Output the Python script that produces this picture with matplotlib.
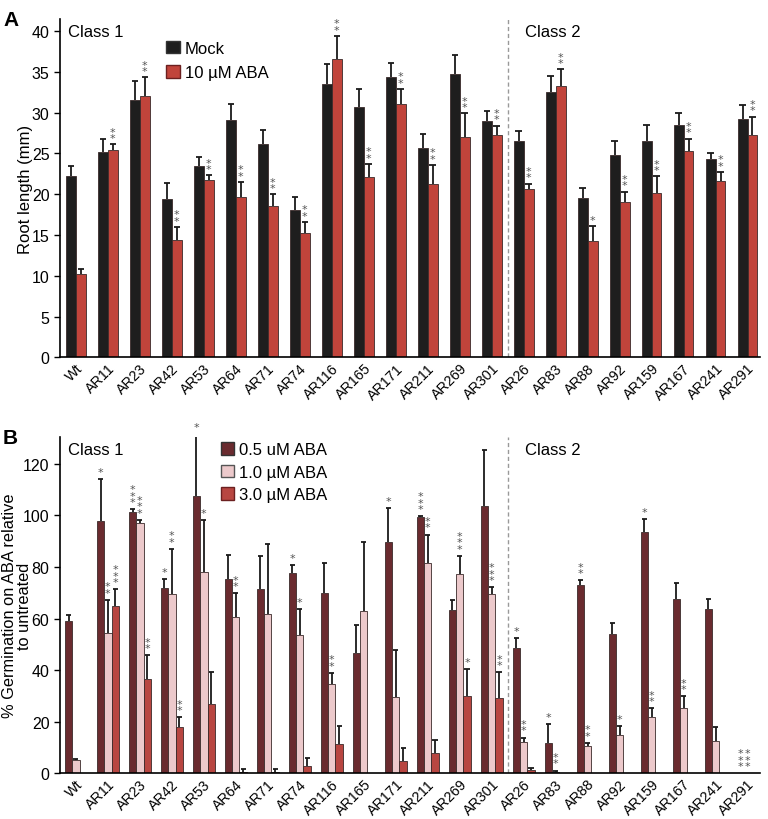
import numpy as np
import matplotlib.pyplot as plt
from matplotlib.patches import Patch

plt.rcParams['font.family'] = ['Liberation Sans', 'DejaVu Sans']

nan = np.nan

lines = ['Wt', 'AR11', 'AR23', 'AR42', 'AR53', 'AR64', 'AR71', 'AR74', 'AR116', 'AR165',
         'AR171', 'AR211', 'AR269', 'AR301', 'AR26', 'AR83', 'AR88', 'AR92', 'AR159',
         'AR167', 'AR241', 'AR291']

# panel A: root length (mm)
mock = [22.2, 25.2, 31.5, 19.4, 23.4, 29.1, 26.2, 18.1, 33.5, 30.7, 34.4,
        25.7, 34.75, 29.0, 26.5, 32.5, 19.5, 24.8, 26.5, 28.5, 24.3, 29.2]
mock_err = [1.3, 1.6, 2.4, 2.0, 1.1, 1.9, 1.6, 1.6, 2.5, 2.2, 1.7,
            1.7, 2.35, 1.2, 1.2, 2.0, 1.2, 1.7, 2.0, 1.4, 0.7, 1.7]
aba = [10.2, 25.4, 32.0, 14.4, 21.7, 19.7, 18.6, 15.2, 36.6, 22.1, 31.1,
       21.3, 27.0, 27.2, 20.6, 33.3, 14.3, 19.0, 20.1, 25.3, 21.6, 27.3]
aba_err = [0.6, 0.7, 2.3, 1.6, 0.6, 1.8, 1.4, 1.4, 2.8, 1.6, 1.8,
           2.3, 2.9, 1.2, 0.7, 2.0, 1.8, 1.3, 2.1, 1.5, 1.1, 2.2]
aba_sig = ['', '**', '**', '**', '**', '**', '**', '**', '**', '**', '**',
           '**', '**', '**', '**', '**', '*', '**', '**', '**', '**', '**']

# panel B: % germination on ABA relative to untreated
g05 = [59.0, 98.0, 101.5, 71.8, 107.7, 75.4, 71.6, 77.5, 69.9, 46.6, 89.6,
       99.4, 63.2, 103.5, 48.6, 11.5, 72.9, 54.1, 93.6, 67.7, 63.7, nan]
g05_err = [2.2, 16.1, 1.0, 3.6, 23.9, 9.4, 12.7, 3.3, 11.6, 10.7, 13.1,
           0.3, 3.9, 21.9, 3.7, 7.5, 2.0, 4.1, 5.0, 5.9, 3.7, nan]
g05_sig = ['', '*', '***', '*', '*', '', '', '*', '', '', '*',
           '***', '', '', '*', '*', '**', '', '*', '', '', '***']
g10 = [5.0, 54.3, 96.9, 69.5, 78.0, 60.4, 61.8, 53.7, 34.4, 63.1, 29.5,
       81.4, 77.2, 69.6, 12.1, 0.6, 10.6, 14.9, 21.9, 25.3, 12.6, nan]
g10_err = [0.4, 12.9, 1.5, 17.5, 20.2, 9.5, 27.0, 10.0, 4.5, 26.7, 18.4,
           11.2, 7.2, 2.6, 1.7, 0.4, 1.1, 3.2, 3.2, 4.6, 5.3, nan]
g10_sig = ['', '**', '***', '**', '*', '**', '', '*', '**', '', '',
           '**', '***', '***', '**', '**', '**', '*', '**', '**', '', '***']
g30 = [nan, 64.9, 36.7, 17.9, 26.9, 0.6, 0.6, 2.6, 11.2, nan, 4.5,
       7.8, 30.1, 29.0, 1.2, nan, nan, nan, nan, nan, nan, nan]
g30_err = [nan, 6.5, 9.0, 3.7, 12.3, 0.8, 0.8, 3.3, 7.0, nan, 5.2,
           4.9, 10.3, 10.2, 0.9, nan, nan, nan, nan, nan, nan, nan]
g30_sig = ['', '***', '**', '**', '', '', '', '', '', '', '',
           '', '*', '**', '', '', '', '', '', '', '', '']

x = np.arange(len(lines))

fig = plt.figure(figsize=(7.68, 8.2), dpi=100)
axA = fig.add_axes([0.078, 0.563, 0.912, 0.413])
axB = fig.add_axes([0.078, 0.056, 0.912, 0.410])


def draw_series(ax, xs, vals, errs, sig, w, color, pad, cap):
    vals = np.array(vals, dtype=float)
    errs = np.array(errs, dtype=float)
    ax.bar(xs, vals, w, color=color, edgecolor='#3a2a2a', linewidth=0.6, zorder=2)
    tops = vals + errs
    ok = ~np.isnan(tops)
    ax.vlines(xs[ok], vals[ok], tops[ok], color='#1a1a1a', lw=1.3, zorder=3)
    ax.hlines(tops[ok], xs[ok] - cap, xs[ok] + cap, color='#1a1a1a', lw=1.3, zorder=3)
    for xi, t, s in zip(xs, tops, sig):
        if not s:
            continue
        y = 0 if np.isnan(t) else t
        ax.text(xi, y + pad, '\n'.join(s), ha='center', va='bottom', fontsize=8,
                color='#555555', linespacing=0.55, family='DejaVu Sans')


def style(ax, ymax, yticks):
    ax.set_xlim(-0.5, 21.4)
    ax.set_ylim(0, ymax)
    ax.set_yticks(yticks)
    ax.spines['top'].set_visible(False)
    ax.spines['right'].set_visible(False)
    ax.spines['left'].set_linewidth(1.2)
    ax.spines['bottom'].set_linewidth(1.2)
    ax.set_xticks(x)
    ax.set_xticklabels(lines, rotation=45, ha='right', rotation_mode='anchor', fontsize=10.3)
    ax.tick_params(axis='x', length=0, pad=2.5)
    ax.tick_params(axis='y', labelsize=11.5, length=4, width=1)
    ax.axvline(13.5, color='#999999', ls=(0, (3, 2)), lw=1)


# ---- panel A
wa = 0.31
draw_series(axA, x - wa / 2, mock, mock_err, [''] * 22, wa, '#1e1e1e', 0.2, 0.1)
draw_series(axA, x + wa / 2, aba, aba_err, aba_sig, wa, '#c1443b', 0.15, 0.1)
style(axA, 41.5, np.arange(0, 41, 5))
axA.set_ylabel('Root length (mm)', fontsize=12)
axA.yaxis.set_label_coords(-0.038, 0.5)
axA.text(0.012, 0.985, 'Class 1', transform=axA.transAxes, fontsize=12, va='top')
axA.text(0.664, 0.985, 'Class 2', transform=axA.transAxes, fontsize=12, va='top')
axA.legend(handles=[Patch(facecolor='#1e1e1e', edgecolor='#333333', label='Mock'),
                    Patch(facecolor='#c1443b', edgecolor='#6b2020', label='10 µM ABA')],
           loc='upper left', bbox_to_anchor=(0.14, 0.96), frameon=False, fontsize=12,
           handlelength=0.8, handleheight=0.8, handletextpad=0.3, labelspacing=0.55,
           borderpad=0)

# ---- panel B
wb = 0.23
draw_series(axB, x - wb, g05, g05_err, g05_sig, wb, '#6a2b2f', 0.8, 0.08)
draw_series(axB, x, g10, g10_err, g10_sig, wb, '#ecc9cb', 0.8, 0.08)
draw_series(axB, x + wb, g30, g30_err, g30_sig, wb, '#b84641', 0.8, 0.08)
style(axB, 130.5, np.arange(0, 121, 20))
# two-line y label, one text per line
axB.text(-0.072, 0.5, '% Germination on ABA relative', transform=axB.transAxes,
         rotation=90, ha='center', va='center', fontsize=11.8)
axB.text(-0.05, 0.5, 'to untreated', transform=axB.transAxes,
         rotation=90, ha='center', va='center', fontsize=11.8)
axB.text(0.012, 0.985, 'Class 1', transform=axB.transAxes, fontsize=12, va='top')
axB.text(0.664, 0.985, 'Class 2', transform=axB.transAxes, fontsize=12, va='top')
axB.legend(handles=[Patch(facecolor='#6a2b2f', edgecolor='#333333', label='0.5 uM ABA'),
                    Patch(facecolor='#ecc9cb', edgecolor='#555555', label='1.0 µM ABA'),
                    Patch(facecolor='#b84641', edgecolor='#6b2020', label='3.0 µM ABA')],
           loc='upper left', bbox_to_anchor=(0.218, 1.01), frameon=False, fontsize=12,
           handlelength=0.8, handleheight=0.8, handletextpad=0.3, labelspacing=0.45,
           borderpad=0)

fig.text(0.004, 0.987, 'A', fontsize=15, fontweight='bold', va='top')
fig.text(0.004, 0.477, 'B', fontsize=15, fontweight='bold', va='top')

fig.savefig('out.png', dpi=100)
